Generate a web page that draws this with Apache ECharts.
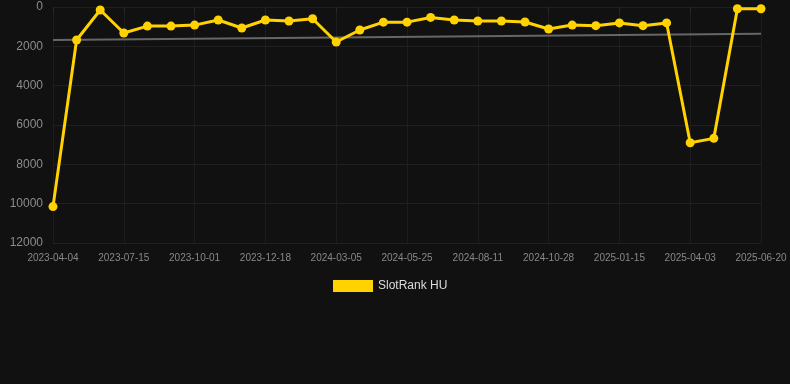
<!DOCTYPE html>
<html>
<head>
<meta charset="utf-8">
<script src="https://cdn.jsdelivr.net/npm/echarts@6/dist/echarts.min.js"></script>
<style>
  html, body { margin: 0; padding: 0; background: #111111; }
  #chart { width: 790px; height: 384px; }
</style>
</head>
<body>
<div id="chart"></div>
<script>
// dates on the x axis (one per point)
var dates = [
  '2023-04-04', '2023-04-30', '2023-06-04', '2023-07-15', '2023-08-10', '2023-09-05',
  '2023-10-01', '2023-10-27', '2023-11-22', '2023-12-18', '2024-01-13', '2024-02-08',
  '2024-03-05', '2024-04-01', '2024-04-28', '2024-05-25', '2024-06-20', '2024-07-16',
  '2024-08-11', '2024-09-06', '2024-10-02', '2024-10-28', '2024-11-23', '2024-12-19',
  '2025-01-15', '2025-02-10', '2025-03-08', '2025-04-03', '2025-04-29', '2025-05-25',
  '2025-06-20'
];
// rank values
var rankHU = [
  10150, 1680, 150, 1320, 970, 970, 920, 660, 1070, 660, 710, 600,
  1780, 1170, 770, 770, 530, 660, 710, 710, 760, 1120, 920, 950,
  810, 950, 810, 6900, 6680, 90, 90
];
// trend line start / end values
var trendEnds = [1680, 1360];

var trend = dates.map(function (d, i) {
  if (i === 0) return trendEnds[0];
  if (i === dates.length - 1) return trendEnds[1];
  return null;
});

var myChart = echarts.init(document.getElementById('chart'));
var option = {
  backgroundColor: '#111111',
  animation: false,
  grid: {
    left: 53,
    right: 29,
    top: 7,
    bottom: 141
  },
  legend: {
    data: ['SlotRank HU'],
    top: 275,
    left: 328,
    itemWidth: 40,
    itemHeight: 12,
    itemGap: 6,
    icon: 'rect',
    textStyle: { color: '#dddddd', fontSize: 12, fontFamily: 'Liberation Sans, Arial, sans-serif' }
  },
  xAxis: {
    type: 'category',
    data: dates,
    boundaryGap: false,
    axisLine: { show: false },
    axisTick: {
      show: true,
      interval: 2,
      length: 6,
      lineStyle: { color: '#262626' }
    },
    axisLabel: {
      interval: 2,
      color: '#888888',
      fontSize: 10,
      margin: 10,
      fontFamily: 'Liberation Sans, Arial, sans-serif'
    },
    splitLine: {
      show: true,
      interval: 2,
      lineStyle: { color: '#1d1d1d', width: 1 }
    }
  },
  yAxis: {
    type: 'value',
    inverse: true,
    min: 0,
    max: 12000,
    interval: 2000,
    axisLine: { show: false },
    axisTick: { show: false },
    axisLabel: {
      color: '#8c8c8c',
      fontSize: 12,
      margin: 10,
      fontFamily: 'Liberation Sans, Arial, sans-serif',
      formatter: function (v) { return String(v); }
    },
    splitLine: {
      lineStyle: { color: '#202020', width: 1 }
    }
  },
  series: [
    {
      name: 'trend',
      type: 'line',
      data: trend,
      connectNulls: true,
      symbol: 'none',
      silent: true,
      lineStyle: { color: '#666666', width: 2 },
      z: 1
    },
    {
      name: 'SlotRank HU',
      type: 'line',
      data: rankHU,
      symbol: 'circle',
      symbolSize: 9,
      itemStyle: { color: '#FFD200' },
      lineStyle: { color: '#FFD200', width: 3 },
      z: 3
    }
  ]
};
myChart.setOption(option);
</script>
</body>
</html>
